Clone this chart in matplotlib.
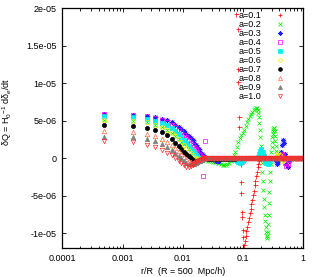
import numpy as np

import matplotlib

matplotlib.use("Agg")
import matplotlib.pyplot as plt
from matplotlib.ticker import FixedLocator, LogLocator, NullFormatter

# figure geometry (pixels of the reference at dpi 100)
FIG_W, FIG_H, DPI = 3.12, 2.77, 100
AX_LEFT, AX_RIGHT, AX_TOP, AX_BOTTOM = 62.3, 303.3, 8.3, 248.3
FONT = ["Liberation Sans", "DejaVu Sans"]
FS = 6.5
UNIT = 1e-6  # all series below are in units of 1e-6

# r/R positions shared by the series
X_EARLY = [0.0005, 0.0015, 0.0025, 0.0035, 0.0045, 0.0055, 0.0065, 0.0075, 0.0085, 0.0095,
           0.0105, 0.0115, 0.0125, 0.0135, 0.0145, 0.0155, 0.0165, 0.0175, 0.0185, 0.0195,
           0.0205, 0.0215, 0.0225, 0.0235, 0.0245]
X_TAIL = [0.026, 0.028, 0.030, 0.032, 0.034, 0.036, 0.038, 0.040, 0.043, 0.046,
          0.049, 0.052, 0.055, 0.058, 0.062, 0.066, 0.070, 0.074, 0.078, 0.083,
          0.088, 0.093, 0.098, 0.104, 0.110, 0.116, 0.122, 0.129, 0.136, 0.143,
          0.150, 0.158, 0.166, 0.174, 0.183, 0.192, 0.201, 0.211, 0.221, 0.232,
          0.243, 0.255, 0.267, 0.280, 0.293, 0.307, 0.321, 0.336, 0.352, 0.368,
          0.385, 0.403, 0.421, 0.440, 0.460, 0.481, 0.503, 0.526, 0.550, 0.575,
          0.601, 0.628, 0.656, 0.686, 0.717, 0.749, 0.783, 0.818, 0.855, 0.893,
          0.933, 0.975, 0.995]

# a=0.1: scattered points near r/R~0.08-0.1, then a steep branch
X_A01_NEAR = [0.026, 0.030, 0.034, 0.038, 0.043, 0.048, 0.053, 0.058, 0.064, 0.070]
Y_A01_NEAR = [0.0, 0.0, 0.0, 0.0, 0.0, 0.0, 0.0, 0.0, 0.0, 0.0]
X_A01_SCATTER = [0.0764, 0.0815, 0.0834, 0.0834, 0.0867, 0.0867, 0.0925, 0.0925, 0.0925,
                 0.095, 0.095, 0.0987, 0.0987]
Y_A01_SCATTER = [19.2, 17.3, 11.9, 10.2, 5.5, 4.2, -0.8, -3.2, -4.6, -7.2, -7.8, -9.6, -10.5]
X_A01_BRANCH = [0.102, 0.106, 0.110, 0.114, 0.118, 0.122, 0.126, 0.130, 0.134, 0.138,
                0.142, 0.146, 0.150, 0.155, 0.160, 0.165, 0.170, 0.175, 0.180, 0.185,
                0.190, 0.195]
Y_A01_BRANCH = [-11.6, -11.0, -10.3, -9.7, -9.1, -8.5, -7.9, -7.3, -6.7, -6.1,
                -5.5, -4.9, -4.3, -3.6, -3.0, -2.4, -1.8, -1.2, -0.7, -0.3,
                0.0, 0.0]
Y_A01_FAR = [0.0, 0.0, 0.0, 0.0, 0.0, 0.0, 0.0, 0.0, 0.0, 0.0,
             0.0, 0.0, 0.0, 0.0, 0.0, 0.0, 0.0, 0.0, 0.0, 0.0,
             0.0, 0.0, 0.0, 0.0, 0.0, 0.0, 0.0, 0.0, 0.0, 0.0,
             0.0, 0.0, 0.0, 0.0, 0.0, 0.0, 0.0]
Y_A01_EARLY = [5.9, 5.8, 5.7, 5.5, 5.3, 5.1, 4.8, 4.5, 4.2, 3.9, 3.6, 3.3, 3.0, 2.7, 2.4,
               2.1, 1.8, 1.5, 1.2, 0.9, 0.6, 0.4, 0.2, 0.1, 0.0]

# a=0.2: oscillation between 0.1 and 0.4
Y_A02_EARLY = [5.1, 5.0, 4.8, 4.5, 4.2, 3.8, 3.4, 3.0, 2.6, 2.2, 1.9, 1.6, 1.3, 1.1, 0.9,
               0.7, 0.5, 0.4, 0.3, 0.2, 0.1, 0.0, -0.1, -0.2, -0.25]
Y_A02_MID = [-0.3, -0.35, -0.4, -0.45, -0.5, -0.55, -0.6, -0.65, -0.75, -0.85,
             -0.9, -0.85, -0.75, -0.6, -0.3, 0.0, 0.4, 0.9, 1.5, 2.2,
             2.7, 3.1, 3.4, 3.8, 4.3, 4.8, 5.2, 5.6, 5.9, 6.2,
             6.4, 6.6, 6.7]
X_A02_OSC = [0.170, 0.174, 0.178, 0.182, 0.186, 0.190, 0.194, 0.198, 0.202, 0.206,
             0.210, 0.214, 0.218, 0.222, 0.226, 0.230, 0.234, 0.238, 0.242, 0.246,
             0.250, 0.254, 0.258, 0.262, 0.266, 0.270, 0.274, 0.278, 0.282, 0.286,
             0.290, 0.294, 0.298, 0.302, 0.306, 0.310, 0.315, 0.320, 0.325, 0.330,
             0.335, 0.340, 0.345, 0.350, 0.355, 0.360, 0.366, 0.372, 0.378]
Y_A02_OSC = [6.7, 6.5, 6.1, 5.5, 4.7, 3.8, 2.8, 1.7, 0.6, -0.6,
             -1.8, -3.0, -4.2, -5.4, -6.5, -7.5, -8.4, -9.2, -9.8, -10.3,
             -10.6, -10.4, -9.8, -8.8, -7.5, -6.0, -4.5, -3.0, -1.8, -0.8,
             0.0, 0.8, 1.5, 2.2, 2.8, 3.3, 3.7, 3.9, 4.0, 4.0,
             3.6, 3.0, 2.3, 1.6, 1.0, 0.5, 0.2, 0.0, 0.0]
Y_A02_FAR = [0.0, 0.0, 0.0, 0.0, 0.0, 0.0, 0.0, 0.0, 0.0, 0.0,
             0.0, 0.0, 0.0, 0.0, 0.0, 0.0, 0.0, 0.0, 0.0, 0.0,
             0.0, 0.0, 0.0]

# a=0.3 ... a=1.0 on X_EARLY + X_TAIL
Y_A03 = [5.9, 5.8, 5.7, 5.5, 5.3, 5.1, 4.8, 4.5, 4.2, 3.9, 3.6, 3.3, 3.0, 2.7, 2.4,
         2.1, 1.8, 1.5, 1.2, 0.9, 0.6, 0.4, 0.2, 0.1, 0.0,
         0.0, 0.1, 0.1, 0.0, -0.2, -0.3, -0.4, -0.3, -0.1, 0.0,
         0.1, 0.0, -0.1, 0.0, 0.0, 0.0, 0.0, 0.0, 0.0, 0.0,
         0.0, 0.0, 0.0, 0.0, 0.0, 0.0, 0.0, 0.0, 0.0, 0.0,
         0.0, 0.0, 0.0, 0.0, 0.0, 0.0, 0.0, 0.0, 0.0, 0.0,
         0.0, 0.0, 0.0, 0.0, 0.0, 0.0, 0.0, -0.1, -0.4, -0.8,
         -0.5, 0.2, 0.9, 1.8, 2.5, 2.0, 0.6, -0.8, -1.2, -0.4,
         0.0, 0.0, 0.0, 0.0, 0.0, 0.0, 0.0, 0.0, 0.0, 0.0,
         0.0, 0.0, 0.0]
Y_A04 = [5.9, 5.8, 5.6, 5.4, 5.1, 4.8, 4.5, 4.2, 3.8, 3.5, 3.1, 2.8, 2.4, 2.1, 1.8,
         1.5, 1.2, 0.9, 0.6, 0.4, 0.2, -2.4, 0.1, 2.3, 0.0,
         0.0, 0.0, 0.0, 0.0, 0.0, 0.0, 0.0, 0.0, 0.0, 0.0,
         0.0, 0.0, 0.0, 0.0, 0.0, 0.0, 0.0, 0.0, 0.0, 0.0,
         0.0, 0.0, 0.0, 0.0, 0.0, 0.0, 0.0, 0.0, 0.0, 0.0,
         0.0, 0.0, 0.0, 0.0, 0.0, 0.0, 0.0, 0.0, 0.0, 0.0,
         0.0, 0.0, 0.0, 0.0, 0.0, 0.0, 0.0, 0.0, 0.0, 0.0,
         0.0, 0.1, 0.3, 0.6, 0.5, 0.0, -0.6, -1.0, -0.7, -0.2,
         0.0, 0.0, 0.0, 0.0, 0.0, 0.0, 0.0, 0.0, 0.0, 0.0,
         0.0, 0.0, 0.0]
Y_A05 = [5.6, 5.5, 5.3, 5.0, 4.7, 4.4, 4.0, 3.6, 3.2, 2.8, 2.4, 2.0, 1.6, 1.3, 1.0,
         0.7, 0.4, 0.2, 0.1, 0.0, -0.1, -0.1, 0.0, 0.0, 0.0,
         -0.1, -0.1, 0.0, 0.0, 0.0, 0.0, 0.0, 0.0, 0.0, 0.0,
         0.0, 0.0, 0.0, 0.0, 0.0, 0.0, 0.0, -0.2, -0.4, -0.5,
         -0.6, -0.5, -0.3, -0.1, 0.0, 0.0, 0.0, 0.0, 0.0, 0.0,
         0.0, 0.0, 0.0, 0.2, 0.6, 1.0, 1.2, 0.9, 0.3, -0.3,
         -0.6, -0.7, -0.5, -0.2, 0.0, 0.0, 0.0, 0.0, 0.0, 0.0,
         0.0, 0.0, 0.0, 0.0, 0.0, 0.0, 0.0, 0.0, 0.0, 0.0,
         0.0, 0.0, 0.0, 0.0, 0.0, 0.0, 0.0, 0.0, 0.0, 0.0,
         0.0, 0.0, 0.0]
Y_A06 = [5.1, 5.0, 4.8, 4.5, 4.2, 3.8, 3.4, 3.0, 2.6, 2.2, 1.8, 1.4, 1.0, 0.7, 0.4,
         0.2, 0.0, -0.1, -0.2, -0.2, -0.1, -0.1, 0.0, 0.0, 0.0,
         0.0, 0.0, 0.0, 0.0, 0.0, 0.0, 0.0, 0.0, 0.0, 0.0,
         0.0, 0.0, 0.0, 0.0, 0.0, 0.0, 0.0, 0.0, 0.0, 0.0,
         0.0, 0.0, 0.0, 0.0, 0.0, 0.0, 0.0, 0.0, 0.0, 0.0,
         0.0, 0.0, 0.0, 0.0, 0.0, 0.0, 0.0, 0.0, 0.0, 0.0,
         0.0, 0.0, 0.0, 0.0, 0.0, 0.0, 0.0, 0.0, 0.2, 0.5,
         0.7, 0.5, 0.1, -0.3, -0.2, 0.0, 0.0, 0.0, 0.0, 0.0,
         0.0, 0.0, 0.0, 0.0, 0.0, 0.0, 0.0, 0.0, 0.0, 0.0,
         0.0, 0.0, 0.0]
Y_A07 = [4.4, 4.3, 4.1, 3.8, 3.5, 3.1, 2.6, 2.0, 1.6, 1.2, 0.9, 0.6, 0.3, 0.0, -0.2,
         -0.3, -0.3, -0.3, -0.3, -0.2, -0.2, -0.1, -0.1, 0.0, 0.0,
         -0.1, -0.1, -0.1, 0.0, -0.1, -0.1, 0.0, -0.1, -0.1, 0.0,
         -0.1, 0.0, -0.1, -0.1, 0.0, -0.1, 0.0, -0.1, 0.0, 0.0,
         0.0, 0.0, 0.0, 0.0, 0.0, 0.0, 0.0, 0.0, 0.0, 0.0,
         0.0, 0.0, 0.0, 0.0, 0.0, 0.0, 0.0, 0.0, 0.0, 0.0,
         0.0, 0.0, 0.0, 0.0, 0.0, 0.0, 0.0, 0.0, 0.0, 0.0,
         0.0, 0.0, 0.0, 0.0, 0.0, 0.0, 0.0, 0.0, 0.0, 0.0,
         0.0, 0.0, 0.0, 0.0, 0.0, 0.0, 0.0, 0.0, 0.0, 0.0,
         0.0, 0.0, 0.0]
Y_A08 = [3.6, 3.5, 3.3, 3.0, 2.6, 2.2, 1.8, 1.4, 1.0, 0.6, 0.2, -0.1, -0.4, -0.5, -0.6,
         -0.6, -0.5, -0.4, -0.3, -0.2, -0.2, -0.1, -0.1, 0.0, 0.0,
         0.0, 0.0, 0.0, 0.0, 0.0, 0.0, 0.0, 0.0, 0.0, 0.0,
         0.0, 0.0, 0.0, 0.0, 0.0, 0.0, 0.0, 0.0, 0.0, 0.0,
         0.0, 0.0, 0.0, 0.0, 0.0, 0.0, 0.0, 0.0, 0.0, 0.0,
         0.0, 0.0, 0.0, 0.0, 0.0, 0.0, 0.0, 0.0, 0.0, 0.0,
         0.0, 0.0, 0.0, 0.0, 0.0, 0.0, 0.0, 0.0, 0.0, 0.0,
         0.0, 0.0, 0.0, 0.0, 0.0, 0.0, 0.0, 0.0, 0.0, 0.0,
         0.0, 0.0, 0.0, 0.0, 0.0, 0.0, 0.0, 0.0, 0.0, 0.0,
         0.0, 0.0, 0.0]
Y_A09 = [2.9, 2.8, 2.6, 2.3, 1.9, 1.5, 1.1, 0.7, 0.3, 0.0, -0.3, -0.6, -0.8, -0.8, -0.8,
         -0.7, -0.6, -0.5, -0.4, -0.3, -0.2, -0.1, -0.1, 0.0, 0.0,
         0.1, 0.1, 0.1, 0.1, 0.1, 0.1, 0.1, 0.1, 0.1, 0.1,
         0.1, 0.1, 0.1, 0.0, 0.0, 0.0, 0.0, 0.0, 0.0, 0.0,
         0.0, 0.0, 0.0, 0.0, 0.0, 0.0, 0.0, 0.0, 0.0, 0.0,
         0.0, 0.0, 0.0, 0.0, 0.0, 0.0, 0.0, 0.0, 0.0, 0.0,
         0.0, 0.0, 0.0, 0.0, 0.0, 0.0, 0.0, 0.0, 0.0, 0.0,
         0.0, 0.0, 0.0, 0.0, 0.0, 0.0, 0.0, 0.0, 0.0, 0.0,
         0.0, 0.0, 0.0, 0.0, 0.0, 0.0, 0.0, 0.0, 0.0, 0.0,
         0.0, 0.0, 0.0]
Y_A10 = [2.3, 2.2, 1.8, 1.5, 1.1, 0.7, 0.4, 0.1, -0.3, -0.6, -0.9, -1.1, -1.1, -1.0, -0.9,
         -0.7, -0.5, -0.4, -0.3, -0.2, -0.1, 0.0, 0.0, 0.0, 0.0,
         0.0, 0.0, 0.0, 0.0, 0.0, 0.0, 0.0, 0.0, 0.0, 0.0,
         0.0, 0.0, 0.0, 0.0, 0.0, 0.0, 0.0, 0.0, 0.0, 0.0,
         0.0, 0.0, 0.0, 0.0, 0.0, 0.0, 0.0, 0.0, 0.0, 0.0,
         0.0, 0.0, 0.0, 0.0, 0.0, 0.0, 0.0, 0.0, 0.0, 0.0,
         0.0, 0.0, 0.0, 0.0, 0.0, 0.0, 0.0, 0.0, 0.0, 0.0,
         0.0, 0.0, 0.0, 0.0, 0.0, 0.0, 0.0, 0.0, 0.0, 0.0,
         0.0, 0.0, 0.0, 0.0, 0.0, 0.0, 0.0, 0.0, 0.0, 0.0,
         0.0, 0.0, 0.0]

LABELS = ["a=0.1", "a=0.2", "a=0.3", "a=0.4", "a=0.5",
          "a=0.6", "a=0.7", "a=0.8", "a=0.9", "a=1.0"]

X_TICKS = [1e-4, 1e-3, 1e-2, 1e-1, 1.0]
X_TICK_LABELS = ["0.0001", "0.001", "0.01", "0.1", "1"]
Y_TICKS = [-1e-05, -5e-06, 0.0, 5e-06, 1e-05, 1.5e-05, 2e-05]
Y_TICK_LABELS = ["-1e-05", "-5e-06", "0", "5e-06", "1e-05", "1.5e-05", "2e-05"]

# gnuplot-like point types, one per series
STYLES = [
    dict(marker="+", color="#ff0000", ms=3.6, filled=True),
    dict(marker="x", color="#00ee00", ms=2.9, filled=True),
    dict(marker=(8, 2, 0), color="#2020ff", ms=3.6, filled=True),
    dict(marker="s", color="#ff00ff", ms=2.9, filled=False),
    dict(marker="s", color="#00eeee", ms=2.9, filled=True),
    dict(marker="o", color="#eeee00", ms=3.0, filled=False),
    dict(marker="o", color="#000000", ms=3.0, filled=True),
    dict(marker="^", color="#ff6a40", ms=3.2, filled=False),
    dict(marker="^", color="#808080", ms=3.2, filled=True),
    dict(marker="v", color="#ff2a2a", ms=3.2, filled=False),
]


def series_data():
    xs = [
        X_EARLY + X_A01_NEAR + X_A01_SCATTER + X_A01_BRANCH + X_TAIL[36:],
        X_EARLY + X_TAIL[:33] + X_A02_OSC + X_TAIL[50:],
    ]
    ys = [
        Y_A01_EARLY + Y_A01_NEAR + Y_A01_SCATTER + Y_A01_BRANCH + Y_A01_FAR,
        Y_A02_EARLY + Y_A02_MID + Y_A02_OSC + Y_A02_FAR,
    ]
    for y in (Y_A03, Y_A04, Y_A05, Y_A06, Y_A07, Y_A08, Y_A09, Y_A10):
        xs.append(X_EARLY + X_TAIL)
        ys.append(y)
    return xs, ys


def main():
    plt.rcParams["font.family"] = FONT
    plt.rcParams["mathtext.fontset"] = "custom"
    plt.rcParams["mathtext.rm"] = "Liberation Sans"
    plt.rcParams["mathtext.it"] = "Liberation Sans:italic"

    fig = plt.figure(figsize=(FIG_W, FIG_H), dpi=DPI)
    fig.patch.set_facecolor("white")
    W, H = FIG_W * DPI, FIG_H * DPI
    ax = fig.add_axes([AX_LEFT / W, 1 - AX_BOTTOM / H,
                       (AX_RIGHT - AX_LEFT) / W, (AX_BOTTOM - AX_TOP) / H])

    xs, ys = series_data()
    for x, y, label, st in zip(xs, ys, LABELS, STYLES):
        ax.plot(np.array(x), np.array(y) * UNIT, linestyle="none",
                marker=st["marker"], ms=st["ms"], mew=0.5,
                mec=st["color"], mfc=st["color"] if st["filled"] else "none",
                label=label)

    ax.set_xscale("log")
    ax.set_xlim(1e-4, 1.0)
    ax.set_ylim(-1.2e-05, 2e-05)
    ax.xaxis.set_major_locator(FixedLocator(X_TICKS))
    ax.set_xticklabels(X_TICK_LABELS)
    ax.xaxis.set_minor_locator(LogLocator(base=10, subs=np.arange(2, 10)))
    ax.xaxis.set_minor_formatter(NullFormatter())
    ax.set_yticks(Y_TICKS)
    ax.set_yticklabels(Y_TICK_LABELS)
    ax.tick_params(which="both", direction="in", top=True, right=True,
                   labelsize=FS, width=0.6, pad=4)
    ax.tick_params(which="major", length=3.2)
    ax.tick_params(which="minor", length=1.8)
    for sp in ax.spines.values():
        sp.set_linewidth(0.9)

    ax.set_xlabel("r/R  (R = 500  Mpc/h)", fontsize=FS, labelpad=3)
    fig.text(7 / W, 1 - 112 / H, r"δQ = H$_0$$^{-1}$ dδ$_e$/dt",
             rotation=90, ha="center", va="center", fontsize=FS)

    ax.legend(loc="upper right", bbox_to_anchor=(0.922, 0.988), frameon=False,
              markerfirst=False, fontsize=FS, handlelength=1.0, markerscale=0.9,
              handletextpad=1.6, labelspacing=0.0, borderpad=0.0,
              borderaxespad=0.0, numpoints=1)

    fig.savefig("out.png", dpi=DPI, facecolor="white")
    plt.close(fig)


if __name__ == "__main__":
    main()
